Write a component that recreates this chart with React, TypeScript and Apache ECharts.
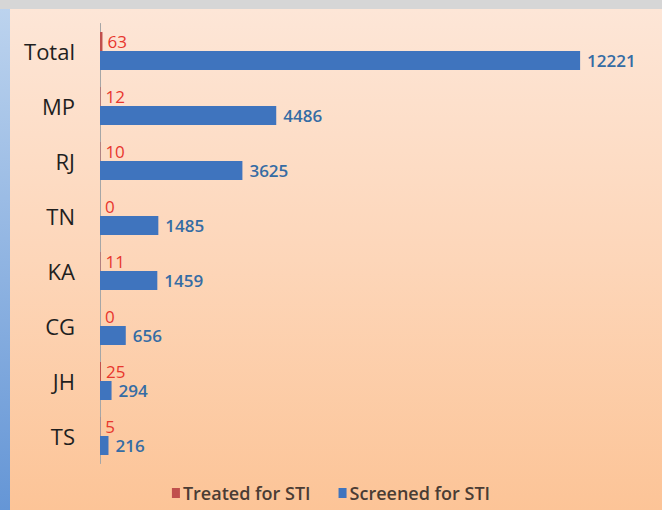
import React, { useEffect, useRef } from "react";
import * as echarts from "echarts";

const categories = ["Total", "MP", "RJ", "TN", "KA", "CG", "JH", "TS"];
const treated = [63, 12, 10, 0, 11, 0, 25, 5];
const screened = [12221, 4486, 3625, 1485, 1459, 656, 294, 216];
const seriesNames = ["Treated for STI", "Screened for STI"];

export default function App() {
  const ref = useRef<HTMLDivElement>(null);
  useEffect(() => {
    document.body.style.margin = "0";
    const chart = echarts.init(ref.current!, null, { renderer: "svg" });
    const font = "'Open Sans', 'Liberation Sans', sans-serif";
    chart.setOption({
      animation: false,
      backgroundColor: "#d6d6d6",
      graphic: [
        {
          type: "rect",
          left: 0,
          top: 9,
          z: -10,
          shape: { width: 10, height: 501 },
          style: {
            fill: new echarts.graphic.LinearGradient(0, 0, 0, 1, [
              { offset: 0, color: "#bcd3ee" },
              { offset: 1, color: "#6596d6" },
            ]),
          },
        },
        {
          type: "rect",
          left: 10,
          top: 9,
          z: -10,
          shape: { width: 652, height: 501 },
          style: {
            fill: new echarts.graphic.LinearGradient(0, 0, 0, 1, [
              { offset: 0, color: "#fde6d7" },
              { offset: 0.5, color: "#fdd6b9" },
              { offset: 1, color: "#fcc497" },
            ]),
          },
        },
      ],
      grid: { left: 100, right: 12, top: 23.5, bottom: 46.5, containLabel: false },
      legend: {
        bottom: 3,
        left: "center",
        itemWidth: 8,
        itemHeight: 10,
        itemGap: 28,
        icon: "rect",
        textStyle: {
          fontFamily: font,
          fontSize: 18,
          fontWeight: 600,
          color: "#4a3c34",
          padding: [0, 0, 0, -2],
        },
        data: seriesNames,
      },
      xAxis: {
        type: "value",
        min: 0,
        max: 14000,
        show: false,
      },
      yAxis: {
        type: "category",
        inverse: true,
        data: categories,
        axisLine: { show: true, lineStyle: { color: "#a6a6a6", width: 1 } },
        axisTick: { show: false },
        axisLabel: {
          margin: 25,
          fontFamily: font,
          fontSize: 22,
          color: "#1f1f1f",
        },
        splitLine: { show: false },
      },
      series: [
        {
          name: seriesNames[0],
          type: "bar",
          data: treated,
          barGap: "0%",
          barCategoryGap: "31%",
          itemStyle: { color: "#c0504d" },
          label: {
            show: true,
            position: "right",
            distance: 5,
            fontFamily: font,
            fontSize: 17,
            color: "#e8362d",
          },
        },
        {
          name: seriesNames[1],
          type: "bar",
          data: screened,
          barGap: "0%",
          barCategoryGap: "31%",
          itemStyle: { color: "#3f74be" },
          label: {
            show: true,
            position: "right",
            distance: 7,
            fontFamily: font,
            fontSize: 17,
            fontWeight: 600,
            color: "#356ca4",
          },
        },
      ],
    });
    return () => chart.dispose();
  }, []);
  return <div ref={ref} style={{ width: 662, height: 510 }} />;
}
